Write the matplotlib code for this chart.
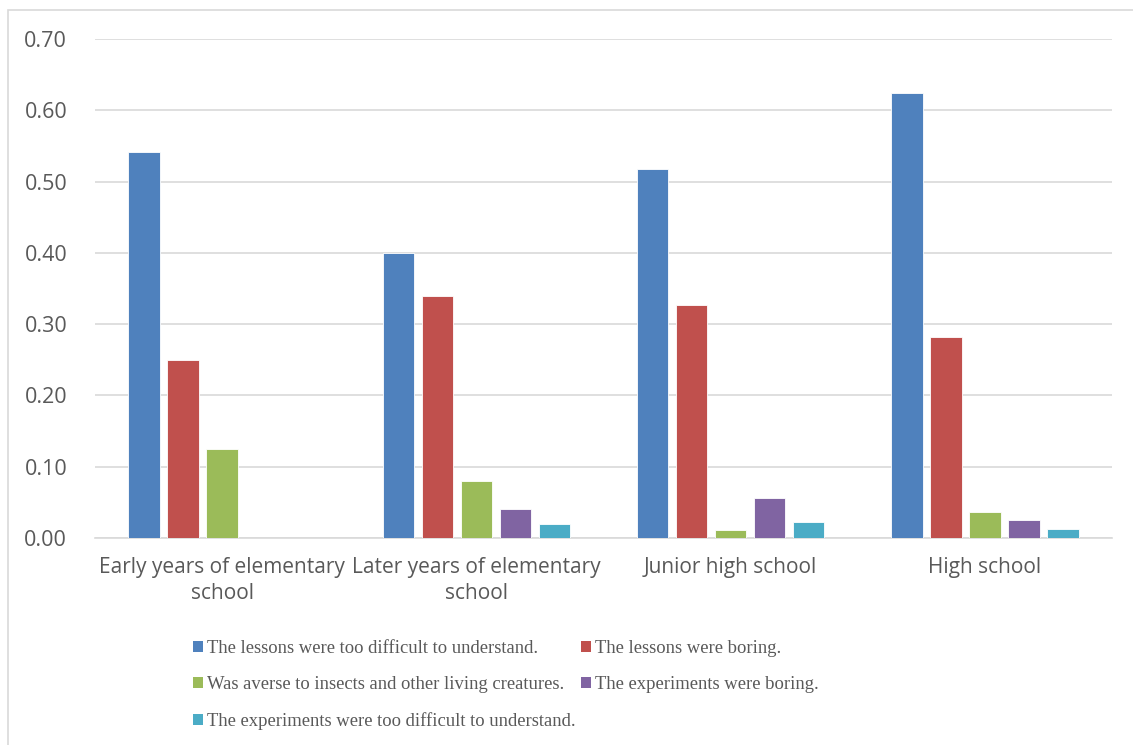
import matplotlib.pyplot as plt
import numpy as np
from matplotlib.patches import Patch, Rectangle

categories = ["Early years of elementary\nschool", "Later years of elementary\nschool",
              "Junior high school", "High school"]
series = [
    "The lessons were too difficult to understand.",
    "The lessons were boring.",
    "Was averse to insects and other living creatures.",
    "The experiments were boring.",
    "The experiments were too difficult to understand.",
]
too_difficult = [0.541, 0.400, 0.517, 0.624]
lessons_boring = [0.250, 0.340, 0.327, 0.282]
averse_insects = [0.125, 0.080, 0.011, 0.036]
experiments_boring = [0.0, 0.040, 0.056, 0.025]
experiments_difficult = [0.0, 0.020, 0.022, 0.013]
colors = ["#4F81BD", "#C0504D", "#9BBB59", "#8064A2", "#4BACC6"]

values = [too_difficult, lessons_boring, averse_insects, experiments_boring, experiments_difficult]

fig = plt.figure(figsize=(11.33, 7.45), dpi=100)
fig.patches.append(Rectangle((8 / 1133, -0.01), 1.2, (735 / 745) + 0.01, transform=fig.transFigure,
                             fill=False, edgecolor="#D9D9D9", linewidth=1.2))

ax = fig.add_axes([95 / 1133, 207 / 745, 1017 / 1133, 499 / 745])
x = np.arange(len(categories))
step = 0.1534
width = 0.124
for i, (vals, col) in enumerate(zip(values, colors)):
    ax.bar(x + (i - 2) * step, vals, width, color=col, edgecolor="white", linewidth=0.6, zorder=3)

ax.set_xlim(-0.5, 3.5)
ax.set_ylim(0, 0.70)
ax.set_yticks(np.arange(0, 0.71, 0.1))
ax.set_yticklabels([f"{v:.2f}" for v in np.arange(0, 0.71, 0.1)])
ax.set_xticks(x)
ax.set_xticklabels(categories, linespacing=1.3)
ax.grid(axis="y", color="#D9D9D9", linewidth=1.2, zorder=0)
for s in ["top", "right", "left"]:
    ax.spines[s].set_visible(False)
ax.spines["bottom"].set_color("#D9D9D9")
ax.spines["bottom"].set_linewidth(1.2)
ax.tick_params(length=0, labelcolor="#595959")
ax.tick_params(axis="y", pad=20, labelsize=15.5)
ax.tick_params(axis="x", pad=14, labelsize=15)
for lab in ax.get_xticklabels() + ax.get_yticklabels():
    lab.set_fontfamily("Open Sans")

handles = [Patch(facecolor=c, edgecolor="none") for c in colors]
order = [0, 2, 4, 1, 3]
fig.legend([handles[i] for i in order], [series[i] for i in order], ncol=2,
           loc="upper left", bbox_to_anchor=(193 / 1133, 1 - 640 / 745), frameon=False,
           prop={"family": "Liberation Serif", "size": 13.4}, labelcolor="#595959",
           handlelength=0.54, handleheight=0.54, handletextpad=0.2, labelspacing=1.02,
           columnspacing=0.3, borderpad=0, borderaxespad=0)

fig.savefig("out.png", dpi=100)
